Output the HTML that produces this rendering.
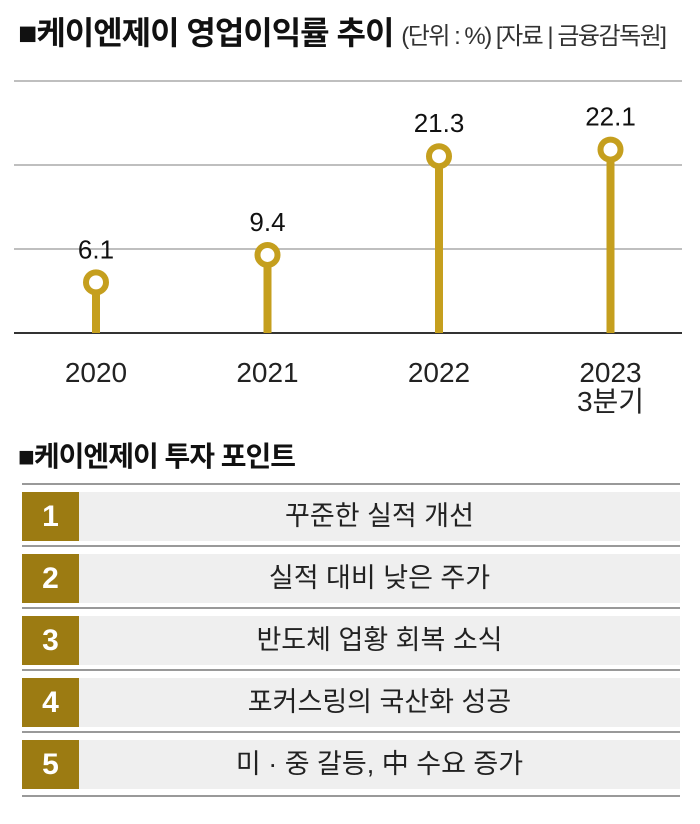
<!DOCTYPE html>
<html><head><meta charset="utf-8"><style>
body{margin:0;width:700px;height:824px;background:#fff;font-family:"Liberation Sans","Noto Sans CJK KR",sans-serif;overflow:hidden;position:relative}
.t{position:absolute;white-space:nowrap;color:#111}
.row{position:absolute;left:22px;width:658px;height:49px;background:#efefef}
.num{position:absolute;left:0;top:0;width:57px;height:49px;background:#9c7b12;color:#fff;font-weight:bold;font-size:30px;text-align:center;line-height:49px;font-family:"Liberation Sans Narrow","Liberation Sans",sans-serif}
.txt{position:absolute;left:57px;right:0;top:0;line-height:49px;text-align:center;font-size:27px;color:#222}
.ln{position:absolute;left:22px;width:658px;height:2px;background:#999}
</style></head><body>
<div class="t" style="left:18px;top:8px;font-size:32px;font-weight:bold;letter-spacing:-1px">■케이엔제이 영업이익률 추이 <span style="font-size:24px;font-weight:normal;color:#333;letter-spacing:-1.5px">(단위 : %) [자료 | 금융감독원]</span></div>
<svg id="chart" width="700" height="420" style="position:absolute;left:0;top:0"></svg>
<div class="t" style="left:18px;top:435px;font-size:28px;font-weight:bold;letter-spacing:-1px">■케이엔제이 투자 포인트</div>
<div class="ln" style="top:483px"></div>
<div class="row" style="top:492px"><div class="num">1</div><div class="txt">꾸준한 실적 개선</div></div>
<div class="ln" style="top:545px"></div>
<div class="row" style="top:554px"><div class="num">2</div><div class="txt">실적 대비 낮은 주가</div></div>
<div class="ln" style="top:607px"></div>
<div class="row" style="top:616px"><div class="num">3</div><div class="txt">반도체 업황 회복 소식</div></div>
<div class="ln" style="top:669px"></div>
<div class="row" style="top:678px"><div class="num">4</div><div class="txt">포커스링의 국산화 성공</div></div>
<div class="ln" style="top:731px"></div>
<div class="row" style="top:740px"><div class="num">5</div><div class="txt">미 · 중 갈등, 中 수요 증가</div></div>
<div class="ln" style="top:795px"></div>
<script>
const categories=["2020","2021","2022","2023|3분기"];
const values=[6.1,9.4,21.3,22.1];
const valueLabels=["6.1","9.4","21.3","22.1"];
const gridValues=[10,20,30];
const NS="http://www.w3.org/2000/svg";
const svg=document.getElementById('chart');
const base=333,k=8.3;
const y=v=>base-v*k;
const x=i=>96+i*171.5;
function mk(t,a){const e=document.createElementNS(NS,t);for(const n in a)e.setAttribute(n,a[n]);svg.appendChild(e);return e;}
gridValues.forEach(g=>{const l=mk('line',{x1:14,x2:682,y1:base-g*8.4,y2:base-g*8.4,stroke:'#999','stroke-width':1.2});

});
const ax=mk('line',{x1:14,x2:682,y1:base,y2:base,stroke:'#333','stroke-width':2});


values.forEach((v,i)=>{
 const cx=x(i),cy=y(v);
 const s=mk('line',{x1:cx,x2:cx,y1:cy,y2:base,stroke:'#c59f1e','stroke-width':8});
 
 
 const c=mk('circle',{cx:cx,cy:cy,r:10,fill:'#fff',stroke:'#c59f1e','stroke-width':6});
 
 
 const t=mk('text',{x:cx,y:cy-24,'text-anchor':'middle','font-size':26,fill:'#111'});
 t.textContent=valueLabels[i];
 
 
 categories[i].split('|').forEach((p,j)=>{
  const tl=mk('text',{x:cx,y:382+j*29,'text-anchor':'middle','font-size':28,fill:'#222'});
  tl.textContent=p;
  
  
 });
});
</script>
</body></html>
